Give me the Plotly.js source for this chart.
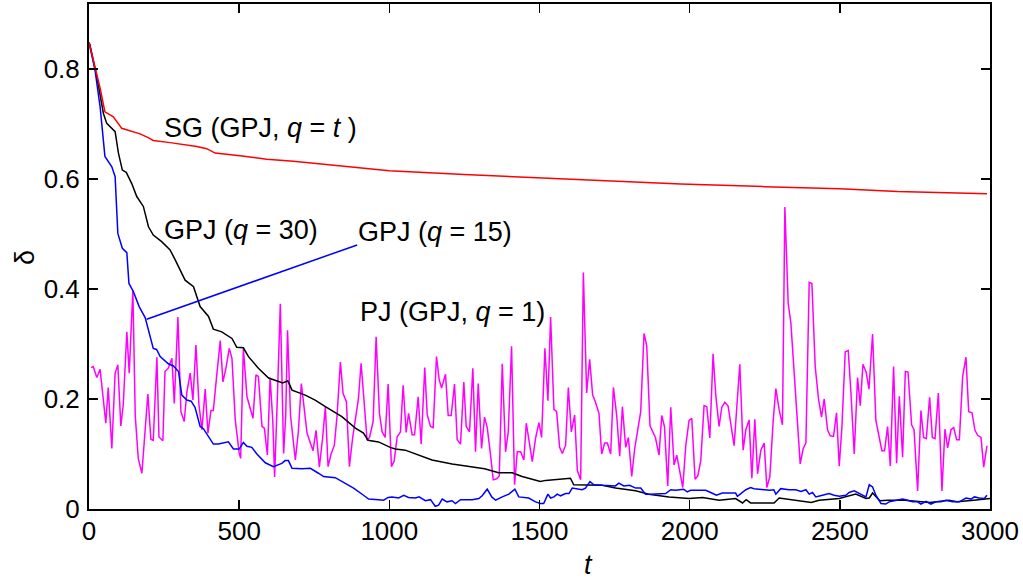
<!DOCTYPE html>
<html>
<head>
<meta charset="utf-8">
<script src="https://cdn.plot.ly/plotly-3.0.1.min.js"></script>
<style>html,body{margin:0;padding:0;background:#fff;}#chart{width:1023px;height:581px;}</style>
</head>
<body>
<div id="chart"></div>
<script>
// ---- data ----
const sgT = [0,37,53,81,109,137,170,197,214,270,359,392,420,503,592,681,814,926,1000,1250,1500,1750,1970,2250,2500,2692,2850,2990];
const sgV = [0.848,0.765,0.722,0.713,0.692,0.688,0.682,0.675,0.670,0.666,0.659,0.655,0.647,0.642,0.636,0.632,0.625,0.618,0.615,0.608,0.602,0.597,0.591,0.586,0.582,0.577,0.575,0.573];

const q30T = [0,3,26,48,59,87,98,111,124,142,159,181,198,214,242,270,287,298,320,348,370,398,414,442,476,492,514,531,564,598,631,645,662,676,720,753,787,842,887,914,929,964,1003,1020,1053,1098,1142,1209,1276,1317,1364,1409,1442,1503,1520,1560,1603,1614,1653,1709,1753,1820,1864,1931,1998,2043,2098,2153,2176,2188,2203,2281,2298,2376,2405,2431,2498,2553,2587,2598,2609,2633,2660,2716,2772,2800,2863,2890,2946,3000];
const q30V = [0.848,0.844,0.786,0.719,0.701,0.686,0.647,0.616,0.612,0.592,0.568,0.55,0.513,0.498,0.486,0.471,0.453,0.44,0.416,0.404,0.368,0.35,0.327,0.322,0.31,0.294,0.293,0.277,0.256,0.238,0.231,0.229,0.233,0.216,0.207,0.198,0.186,0.168,0.147,0.138,0.125,0.122,0.112,0.109,0.107,0.098,0.089,0.082,0.076,0.073,0.066,0.066,0.059,0.05,0.052,0.054,0.056,0.044,0.044,0.043,0.038,0.033,0.027,0.022,0.019,0.021,0.016,0.019,0.011,0.017,0.011,0.011,0.02,0.015,0.012,0.016,0.019,0.027,0.019,0.02,0.029,0.015,0.016,0.016,0.013,0.012,0.016,0.013,0.016,0.019];

const q15T = [0,20,37,53,76,87,96,111,126,133,148,167,187,203,214,225,237,264,281,298,309,326,340,353,370,381,398,414,431,464,481,500,514,526,542,559,587,614,642,653,664,676,709,737,764,781,820,853,881,914,931,964,981,996,1009,1031,1048,1064,1087,1099,1120,1137,1153,1164,1176,1192,1209,1220,1237,1276,1298,1309,1326,1341,1354,1376,1398,1418,1431,1464,1487,1503,1514,1528,1537,1548,1559,1570,1587,1598,1609,1642,1653,1668,1681,1709,1728,1753,1764,1781,1800,1820,1837,1853,1870,1898,1920,1937,1953,1980,1992,2003,2020,2031,2053,2070,2089,2109,2131,2153,2159,2187,2203,2214,2231,2248,2267,2280,2287,2303,2331,2353,2371,2387,2398,2409,2420,2442,2464,2481,2498,2520,2531,2548,2570,2587,2598,2609,2620,2637,2653,2664,2681,2709,2726,2742,2759,2770,2787,2803,2820,2837,2853,2876,2898,2920,2937,2948,2964,2981,2990];
const q15V = [0.848,0.798,0.731,0.641,0.622,0.604,0.501,0.474,0.466,0.41,0.395,0.368,0.348,0.313,0.292,0.29,0.277,0.264,0.26,0.25,0.207,0.198,0.196,0.185,0.15,0.146,0.131,0.118,0.118,0.122,0.109,0.109,0.121,0.114,0.112,0.1,0.084,0.077,0.083,0.088,0.088,0.074,0.073,0.074,0.065,0.059,0.057,0.047,0.038,0.025,0.018,0.017,0.016,0.021,0.022,0.02,0.025,0.021,0.02,0.022,0.015,0.017,0.005,0.007,0.018,0.013,0.015,0.01,0.017,0.017,0.019,0.024,0.036,0.022,0.016,0.022,0.027,0.036,0.022,0.02,0.013,0.01,0.01,0.027,0.02,0.022,0.027,0.024,0.028,0.028,0.038,0.035,0.038,0.05,0.044,0.043,0.042,0.042,0.047,0.042,0.043,0.038,0.038,0.027,0.027,0.027,0.028,0.035,0.034,0.036,0.031,0.034,0.034,0.035,0.034,0.03,0.025,0.029,0.029,0.029,0.023,0.035,0.039,0.037,0.036,0.035,0.034,0.035,0.027,0.037,0.035,0.035,0.032,0.035,0.027,0.03,0.022,0.025,0.028,0.025,0.023,0.025,0.03,0.033,0.027,0.022,0.044,0.04,0.025,0.01,0.009,0.013,0.015,0.018,0.016,0.013,0.013,0.009,0.014,0.009,0.013,0.013,0.016,0.013,0.013,0.02,0.018,0.022,0.02,0.019,0.025];

const pjT = [7,14,26,37,56,64,76,87,96,106,114,126,134,146,154,164,176,184,196,206,214,226,233,246,253,264,276,284,296,306,317,326,337,346,356,366,376,387,396,406,414,426,437,446,456,467,476,487,500,505,514,526,537,546,556,564,576,584,594,603,612,618,627,637,648,655,661,671,687,697,707,719,726,737,746,756,767,778,787,796,806,817,826,837,846,857,867,878,887,897,906,914,926,934,946,956,967,976,986,996,1007,1016,1026,1037,1046,1056,1064,1076,1084,1096,1106,1118,1126,1137,1146,1157,1166,1174,1187,1196,1206,1217,1226,1237,1248,1256,1267,1278,1287,1296,1307,1317,1326,1337,1346,1357,1366,1376,1387,1396,1407,1417,1426,1437,1448,1456,1466,1476,1487,1498,1507,1518,1528,1537,1548,1557,1567,1576,1587,1596,1606,1617,1626,1637,1646,1657,1667,1677,1686,1698,1707,1717,1726,1737,1746,1757,1767,1776,1787,1796,1807,1817,1826,1837,1848,1857,1868,1877,1886,1898,1907,1916,1927,1937,1948,1957,1966,1977,1987,1998,2007,2018,2027,2037,2048,2057,2067,2078,2087,2098,2107,2117,2128,2137,2148,2157,2167,2178,2187,2198,2207,2217,2226,2237,2248,2257,2267,2278,2287,2298,2309,2317,2328,2337,2348,2359,2368,2378,2387,2398,2407,2418,2429,2439,2448,2459,2468,2479,2489,2498,2507,2518,2528,2537,2548,2559,2568,2577,2588,2597,2609,2620,2629,2640,2649,2659,2668,2679,2689,2698,2709,2718,2727,2739,2747,2759,2770,2779,2788,2799,2808,2817,2828,2840,2850,2859,2870,2879,2889,2898,2909,2920,2929,2940,2950,2959,2970,2979,2990];
const pjV = [0.257,0.259,0.239,0.254,0.156,0.221,0.110,0.247,0.262,0.151,0.189,0.322,0.247,0.398,0.17,0.092,0.065,0.119,0.209,0.127,0.125,0.276,0.131,0.124,0.250,0.256,0.274,0.192,0.349,0.177,0.159,0.213,0.247,0.198,0.298,0.19,0.144,0.218,0.138,0.179,0.179,0.247,0.306,0.231,0.256,0.292,0.274,0.162,0.102,0.092,0.292,0.204,0.183,0.165,0.244,0.241,0.150,0.147,0.098,0.239,0.16,0.058,0.2,0.373,0.101,0.17,0.325,0.17,0.089,0.14,0.228,0.17,0.138,0.12,0.106,0.143,0.076,0.13,0.186,0.077,0.10,0.116,0.17,0.267,0.21,0.195,0.077,0.13,0.162,0.2,0.265,0.215,0.125,0.13,0.159,0.313,0.174,0.14,0.13,0.227,0.077,0.087,0.131,0.14,0.225,0.139,0.174,0.135,0.135,0.204,0.118,0.257,0.172,0.150,0.148,0.277,0.235,0.22,0.245,0.17,0.17,0.227,0.126,0.118,0.231,0.15,0.14,0.256,0.104,0.228,0.110,0.167,0.148,0.098,0.053,0.055,0.06,0.264,0.104,0.14,0.296,0.044,0.104,0.104,0.089,0.156,0.12,0.086,0.129,0.157,0.13,0.292,0.197,0.349,0.181,0.177,0.112,0.101,0.116,0.221,0.14,0.171,0.070,0.053,0.430,0.211,0.272,0.207,0.195,0.174,0.1,0.12,0.12,0.1,0.221,0.17,0.096,0.186,0.112,0.13,0.059,0.11,0.14,0.177,0.319,0.297,0.151,0.14,0.13,0.098,0.17,0.15,0.042,0.185,0.08,0.098,0.07,0.039,0.115,0.161,0.165,0.054,0.06,0.088,0.188,0.186,0.129,0.282,0.206,0.150,0.185,0.194,0.187,0.156,0.115,0.186,0.263,0.107,0.144,0.162,0.056,0.163,0.064,0.107,0.12,0.039,0.059,0.16,0.219,0.18,0.153,0.549,0.374,0.338,0.247,0.15,0.082,0.11,0.12,0.412,0.41,0.259,0.2,0.167,0.2,0.144,0.133,0.132,0.175,0.078,0.15,0.286,0.288,0.211,0.1,0.239,0.188,0.263,0.248,0.218,0.318,0.161,0.137,0.106,0.106,0.15,0.078,0.259,0.083,0.205,0.094,0.25,0.249,0.153,0.144,0.033,0.179,0.13,0.128,0.203,0.13,0.128,0.211,0.033,0.145,0.111,0.144,0.148,0.126,0.126,0.241,0.276,0.177,0.175,0.143,0.134,0.13,0.076,0.115];

const xTicks = [0,500,1000,1500,2000,2500,3000];
const yTicks = [0,0.2,0.4,0.6,0.8];
const yTickText = ['0','0.2','0.4','0.6','0.8'];

const FONT = 'Liberation Sans, Arial, Helvetica, sans-serif';
const LW = 1.5;

const traces = [
  {x: pjT, y: pjV, mode: 'lines', line: {color: '#ff00ff', width: LW}, name: 'PJ'},
  {x: q30T, y: q30V, mode: 'lines', line: {color: '#000000', width: LW}, name: 'GPJ q=30'},
  {x: q15T, y: q15V, mode: 'lines', line: {color: '#0000ff', width: LW}, name: 'GPJ q=15'},
  {x: sgT, y: sgV, mode: 'lines', line: {color: '#ff0000', width: LW}, name: 'SG'}
];

const axisCommon = {
  showgrid: false, zeroline: false,
  showline: true, linecolor: '#000', linewidth: 2, mirror: 'ticks',
  ticks: 'inside', ticklen: 9, tickwidth: 1.5, tickcolor: '#000',
  tickfont: {family: FONT, size: 26, color: '#000'}
};

const ann = (text, x, y) => ({text, x, y, xref: 'x', yref: 'y', xanchor: 'left', yanchor: 'middle', showarrow: false, font: {family: FONT, size: 27, color: '#000'}});

const layout = {
  width: 1023, height: 581,
  margin: {l: 89, r: 33, t: 4, b: 72},
  paper_bgcolor: '#fff', plot_bgcolor: '#fff',
  showlegend: false,
  xaxis: Object.assign({}, axisCommon, {range: [0, 3000], tickvals: xTicks, ticktext: xTicks.map(String), ticklabelstandoff: -2}),
  yaxis: Object.assign({}, axisCommon, {range: [0, 0.918], tickvals: yTicks, ticktext: yTickText, ticklabelstandoff: 2}),
  shapes: [
    {type: 'line', xref: 'x', yref: 'y', x0: 192, y0: 0.345, x1: 893, y1: 0.48, line: {color: '#0000ff', width: LW}}
  ],
  annotations: [
    ann('SG (GPJ, <i>q</i> = <i>t</i> )', 243, 0.693),
    ann('GPJ (<i>q</i> = 30)', 243, 0.507),
    ann('GPJ (<i>q</i> = 15)', 888, 0.504),
    ann('PJ (GPJ, <i>q</i> = 1)', 894, 0.358),
    {text: '<i>t</i>', xref: 'paper', yref: 'paper', x: 0.554, y: -0.111, xanchor: 'center', yanchor: 'middle', showarrow: false, font: {family: FONT, size: 27, color: '#000'}},
    {text: 'δ', xref: 'paper', yref: 'paper', x: -0.071, y: 0.497, xanchor: 'center', yanchor: 'middle', textangle: -90, showarrow: false, font: {family: FONT, size: 27, color: '#000'}}
  ]
};

Plotly.newPlot('chart', traces, layout, {displayModeBar: false, staticPlot: true});
</script>
</body>
</html>
